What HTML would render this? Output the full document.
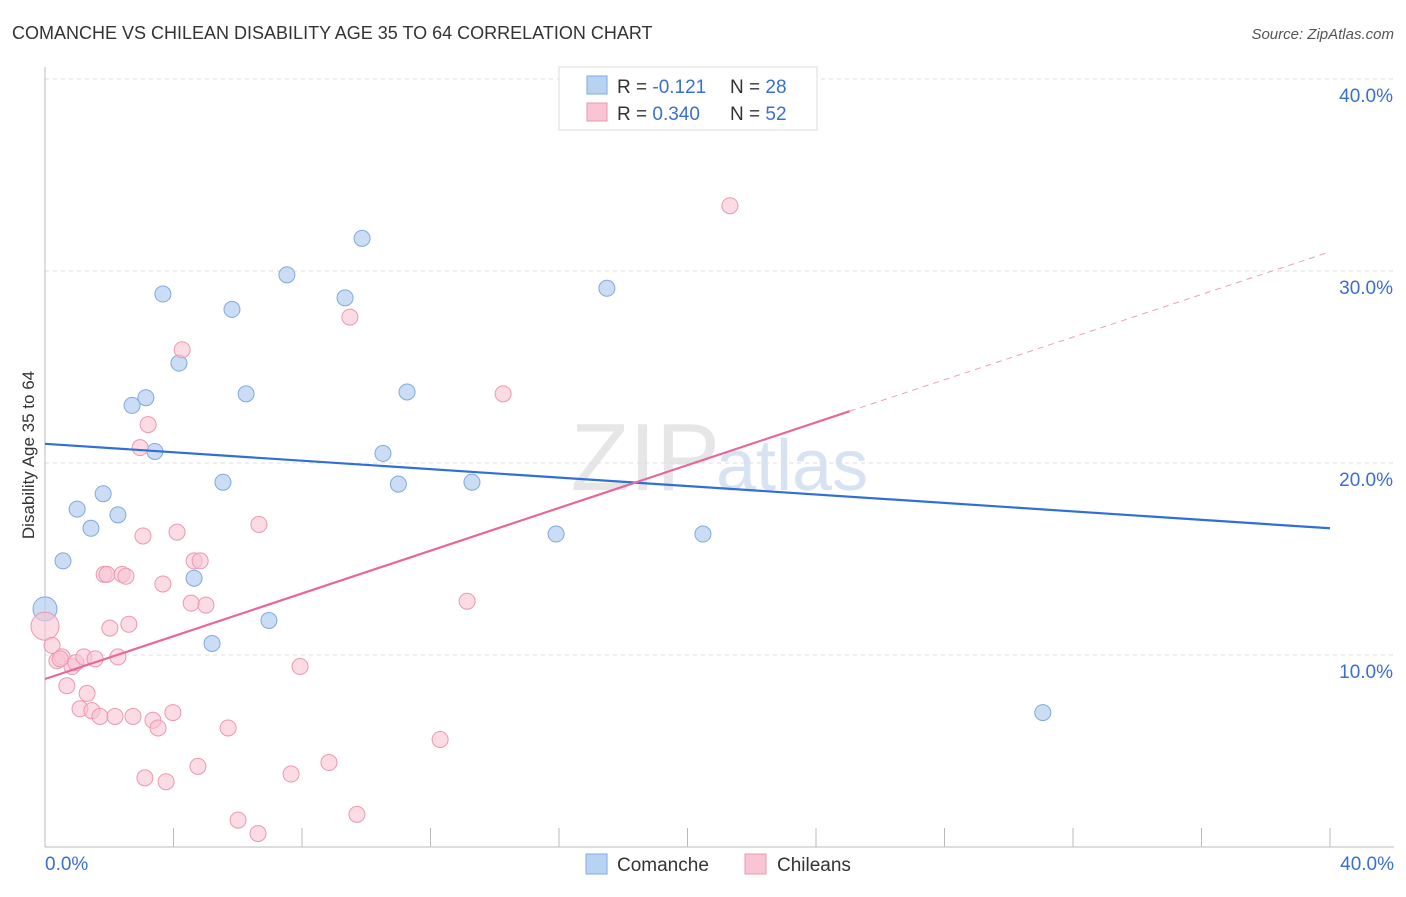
<!DOCTYPE html>
<html><head><meta charset="utf-8">
<style>
body{margin:0;background:#fff;font-family:"Liberation Sans",sans-serif;}
svg text{font-family:"Liberation Sans",sans-serif;}
</style></head>
<body>
<svg width="1406" height="892">
<text x="12" y="39" font-size="18" fill="#333">COMANCHE VS CHILEAN DISABILITY AGE 35 TO 64 CORRELATION CHART</text>
<text x="1394" y="39" font-size="15" fill="#555" font-style="italic" text-anchor="end">Source: ZipAtlas.com</text>
<text x="720" y="490" font-size="96" fill="#e6e6e6" text-anchor="end" font-family="Liberation Serif">ZIP</text>
<text x="716" y="490" font-size="72" fill="#d7e3f3">atlas</text>
<g id="grid"></g>
<g id="axes"></g>
<text transform="translate(34,455) rotate(-90)" font-size="17" fill="#333" text-anchor="middle">Disability Age 35 to 64</text>
<g id="pts"></g>
<g id="lines"></g>
<g>
<rect x="559" y="67" width="258" height="63" fill="#fff" stroke="#ddd"/>
<rect x="587" y="76" width="20" height="18" fill="#b8d2f2" stroke="#7fa9e0"/>
<rect x="587" y="103" width="20" height="18" fill="#f9c4d4" stroke="#ec97b1"/>
<text x="617" y="93" font-size="19" fill="#333">R = <tspan fill="#3a6fd0">-0.121</tspan></text>
<text x="730" y="93" font-size="19" fill="#333">N = <tspan fill="#3a6fd0">28</tspan></text>
<text x="617" y="120" font-size="19" fill="#333">R = <tspan fill="#3a6fd0">0.340</tspan></text>
<text x="730" y="120" font-size="19" fill="#333">N = <tspan fill="#3a6fd0">52</tspan></text>
</g>
<g>
<rect x="586" y="854" width="21" height="20" fill="#b8d2f2" stroke="#7fa9e0"/>
<text x="617" y="871" font-size="19" fill="#333">Comanche</text>
<rect x="745" y="854" width="21" height="20" fill="#f9c4d4" stroke="#ec97b1"/>
<text x="777" y="871" font-size="19" fill="#333">Chileans</text>
</g>
</svg>
<script>
const yTicks=[10,20,30,40];
const xTickLabels=["0.0%","40.0%"];
const blueX=[0,0.56,1.0,1.43,1.81,2.27,2.71,3.14,3.42,3.67,4.17,4.64,5.2,5.54,5.82,6.26,6.97,7.53,9.34,9.87,10.52,11.0,11.27,13.29,15.91,17.49,20.48,31.06];
const blueY=[12.4,14.9,17.6,16.6,18.4,17.3,23.0,23.4,20.6,28.8,25.2,14.0,10.6,19.0,28.0,23.6,11.8,29.8,28.6,31.7,20.5,18.9,23.7,19.0,16.3,29.1,16.3,7.0];
const pinkX=[0,0.22,0.37,0.53,0.68,0.84,0.96,1.09,1.21,1.31,1.46,1.56,1.71,1.84,1.93,2.02,2.18,2.27,2.4,2.52,2.61,2.74,2.96,3.05,3.11,3.21,3.36,3.52,3.67,3.77,3.98,4.11,4.27,4.55,4.64,4.76,4.83,5.01,5.7,6.01,6.63,6.66,7.66,7.94,8.84,9.49,9.71,12.3,13.14,14.26,21.32,0.47];
const pinkY=[11.5,10.5,9.7,9.9,8.4,9.4,9.6,7.2,9.9,8.0,7.1,9.8,6.8,14.2,14.2,11.4,6.8,9.9,14.2,14.1,11.6,6.8,20.8,16.2,3.6,22.0,6.6,6.2,13.7,3.4,7.0,16.4,25.9,12.7,14.9,4.2,14.9,12.6,6.2,1.4,0.7,16.8,3.8,9.4,4.4,27.6,1.7,5.6,12.8,23.6,33.4,9.8];
const blueR=[-0.121],pinkR=[0.340];
const NS="http://www.w3.org/2000/svg";
const X=v=>45+v/40*1285, Y=v=>847-v*19.2;
function mk(t,a,p){const e=document.createElementNS(NS,t);for(const k in a)e.setAttribute(k,a[k]);p.appendChild(e);return e;}
const g=document.getElementById('grid');
yTicks.forEach(t=>{
 const l=mk('line',{x1:45,x2:1394,y1:Y(t),y2:Y(t),stroke:'#ddd','stroke-dasharray':'4,4'},g);
 
 
 const tx=mk('text',{x:1393,y:Y(t)+23,'font-size':19,fill:'#3a6fd0','text-anchor':'end'},g);tx.textContent=t.toFixed(1)+'%';
 
 
});
const ax=document.getElementById('axes');
mk('line',{x1:45,x2:45,y1:67,y2:847,stroke:'#bbb'},ax);
mk('line',{x1:45,x2:1394,y1:847,y2:847,stroke:'#bbb'},ax);
for(let i=0;i<=10;i++){mk('line',{x1:X(i*4),x2:X(i*4),y1:828,y2:847,stroke:'#bbb'},ax);}
[[0,45,'start'],[1,1394,'end']].forEach(([i,x,a])=>{const t=mk('text',{x:x,y:870,'font-size':19,fill:'#3a6fd0','text-anchor':a},ax);t.textContent=xTickLabels[i];

});
const p=document.getElementById('pts');
blueX.forEach((v,i)=>{const c=mk('circle',{cx:X(v),cy:Y(blueY[i]),r:i==0?12:8,fill:'#b8d2f2','fill-opacity':0.75,stroke:'#7fa9e0'},p);

});
pinkX.forEach((v,i)=>{const c=mk('circle',{cx:X(v),cy:Y(pinkY[i]),r:i==0?14:8,fill:'#f9c4d4','fill-opacity':0.6,stroke:'#ec97b1'},p);

});
const L=document.getElementById('lines');
const b=mk('line',{x1:X(0),y1:Y(21.0),x2:X(40),y2:Y(16.6),stroke:'#2f6fd6','stroke-width':2.2},L);


const pk=mk('line',{x1:X(0),y1:Y(8.75),x2:X(25.05),y2:Y(22.7),stroke:'#e8679a','stroke-width':2.2},L);


const pd=mk('line',{x1:X(25.05),y1:Y(22.7),x2:X(40),y2:Y(31.0),stroke:'#e8a0bb','stroke-width':1,'stroke-dasharray':'6,5'},L);


</script>
</body></html>
